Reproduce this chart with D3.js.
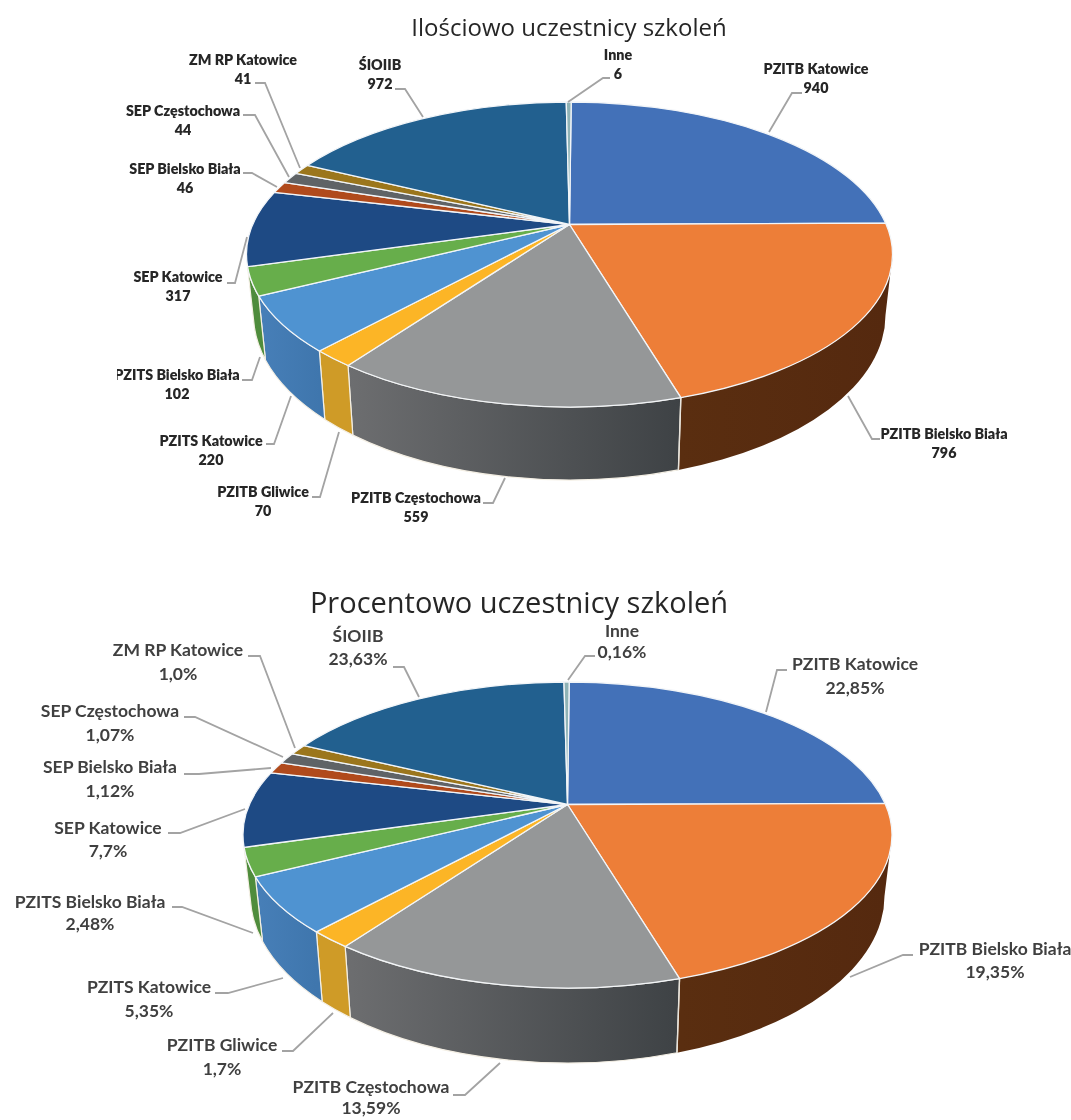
<!DOCTYPE html>
<html><head><meta charset="utf-8">
<script src="https://cdn.jsdelivr.net/npm/d3@7"></script>
<style>html,body{margin:0;padding:0;background:#fff}svg{display:block}</style>
</head><body><svg id="c" width="1071" height="1120"></svg>
<script>
// ---- data ----
const categories = ["PZITB Katowice","PZITB Bielsko Biała","PZITB Częstochowa","PZITB Gliwice","PZITS Katowice","PZITS Bielsko Biała","SEP Katowice","SEP Bielsko Biała","SEP Częstochowa","ZM RP Katowice","ŚIOIIB","Inne"];
const counts = [940,796,559,70,220,102,317,46,44,41,972,6];
const percents = [22.85,19.35,13.59,1.7,5.35,2.48,7.7,1.12,1.07,1.0,23.63,0.16];
const percentLabels = ["22,85%","19,35%","13,59%","1,7%","5,35%","2,48%","7,7%","1,12%","1,07%","1,0%","23,63%","0,16%"];
const titles = ["Ilościowo uczestnicy szkoleń","Procentowo uczestnicy szkoleń"];

// ---- colours ----
const topColors = ["#4371b8","#ed7e38","#959798","#fcb526","#4f93d1","#67ae4b","#1e4a84","#b04a1c","#5f6366","#9b761c","#22608f","#8fb3b6"];
const wallColors = {1:["#5a2e10","#55290f"],2:["#6d6e70","#3e4245"],3:["#cf9b27","#cf9b27"],4:["#477fb8","#3f76ad"],5:["#4f8c3c","#4f8c3c"]};

// ---- projection: the 3-D tilt foreshortens the sweep of each slice ----
const sweepDomain = [0,.2285,.422,.558,.6285,.653,.730,.762,.9985,1].map(f=>f*2*Math.PI);
const sweepRange  = [0.3,78.1,159.8,223.3,254.2,265.3,293.9,305.7,359.4,360.3].map(d=>d*Math.PI/180);
const sweep = d3.scaleLinear().domain(sweepDomain).range(sweepRange);

const pieLayout = d3.pie().sort(null).value(d=>d);

// ---- layouts: [text x, line-1 y, line-2 y, leader points] ----
const layoutTop = [
 [816,69,88,[[802,93],[792,93],[769,132]]],
 [944,434,453,[[880,439],[872,439],[848,396]]],
 [416,498,517,[[483,503],[493,503],[505,478]]],
 [263,492,511,[[312,497],[320,497],[339,432]]],
 [211,441,460,[[266,444],[274,444],[291,396]]],
 [177,375,394,[[242,380],[252,380],[260,357]]],
 [178,277,296,[[227,283],[235,283],[247,237]]],
 [185,169,188,[[243,173],[252,173],[277,187]]],
 [183,111,130,[[243,115],[255,115],[289,177]]],
 [243,60,79,[[255,83],[265,83],[300,168]]],
 [380,65,84,[[395,89],[405,89],[423,117]]],
 [618,55,74,[[610,78],[603,78],[568,102]]]
];
const layoutBottom = [
 [855,664,688,[[787,670],[777,670],[766,712]]],
 [995,949,972,[[913,955],[903,955],[850,977]]],
 [371,1087,1108,[[453,1095],[465,1095],[500,1063]]],
 [222,1045,1069,[[282,1051],[293,1051],[333,1013]]],
 [149,987,1011,[[215,993],[228,993],[283,978]]],
 [90,902,924,[[172,907],[182,907],[253,933]]],
 [108,828,851,[[168,833],[180,833],[245,809]]],
 [110,767,791,[[184,774],[199,774],[271,768]]],
 [110,711,735,[[184,717],[195,717],[283,757]]],
 [178,650,674,[[248,656],[260,656],[295,748]]],
 [358,636,659,[[393,667],[404,667],[419,697]]],
 [622,631,652,[[595,656],[585,656],[568,680]]]
];

const svg = d3.select("#c");
const defs = svg.append("defs");
defs.append("clipPath").attr("id","cutLabel").append("rect").attr("x",117).attr("y",360).attr("width",200).attr("height",40);
const soft=defs.append("filter").attr("id","soft").attr("x","-5%").attr("y","-20%").attr("width","110%").attr("height","140%");
soft.append("feGaussianBlur").attr("stdDeviation",0.45);

function drawPie(cfg){
  const {values,labels,layout,apex,top,low,id} = cfg;
  const g = svg.append("g");
  const arcs = pieLayout(values);
  const pt = (e,t)=>[e.cx+e.rx*Math.sin(t), e.cy-e.ry*Math.cos(t)];
  const fmt = p=>p[0].toFixed(2)+" "+p[1].toFixed(2);
  const rim = (e,a,b,fwd)=>`A${e.rx} ${e.ry} 0 ${Math.abs(b-a)>Math.PI?1:0} ${fwd?1:0} ${fmt(pt(e,b))}`;

  // walls
  arcs.forEach((d,i)=>{
    if(!wallColors[i]) return;
    const t0=sweep(d.startAngle), t1=sweep(d.endAngle);
    const gid=`w${id}${i}`;
    const x0=pt(top,t1)[0], x1=pt(top,t0)[0];
    const lg=defs.append("linearGradient").attr("id",gid).attr("gradientUnits","userSpaceOnUse")
      .attr("x1",Math.min(x0,x1)).attr("x2",Math.max(x0,x1)).attr("y1",0).attr("y2",0);
    lg.append("stop").attr("offset",0).attr("stop-color",wallColors[i][0]);
    lg.append("stop").attr("offset",1).attr("stop-color",wallColors[i][1]);
    const a=Math.max(t0,i===1?Math.PI/2:t0);
    g.append("path")
      .attr("d",`M${fmt(pt(top,a))}${rim(top,a,t1,true)}L${fmt(pt(low,t1))}${rim(low,t1,a,false)}Z`)
      .attr("fill",`url(#${gid})`).attr("stroke","#f4efe4").attr("stroke-width",i===1?0:1.2).attr("stroke-linejoin","round");
  });
  const tB=sweep(arcs[1].endAngle);
  g.append("line").attr("x1",pt(top,tB)[0]).attr("y1",pt(top,tB)[1]).attr("x2",pt(low,tB)[0]).attr("y2",pt(low,tB)[1])
    .attr("stroke","#e8e4dc").attr("stroke-width",1.4);

  // top faces
  g.selectAll("path.face").data(arcs).join("path").attr("class","face")
    .attr("d",d=>{
      const a=sweep(d.startAngle), b=sweep(d.endAngle);
      return `M${apex[0]} ${apex[1]}L${fmt(pt(top,a))}${rim(top,a,b,true)}Z`;
    })
    .attr("fill",(d,i)=>topColors[i])
    .attr("stroke","#f2f5f8").attr("stroke-width",1.3).attr("stroke-linejoin","round");

  // leaders
  g.selectAll("path.lead").data(layout).join("path").attr("class","lead")
    .attr("d",d=>d3.line()(d[3])).attr("fill","none").attr("stroke","#a3a3a3").attr("stroke-width",1.8);

  // labels
  const tg=g.selectAll("g.lab").data(categories).join("g").attr("class","lab")
    .attr("font-family",cfg.font).attr("font-weight",cfg.weight).attr("font-size",cfg.size).attr("fill",cfg.color)
    .attr("text-anchor","middle").attr("filter","url(#soft)");
  tg.each(function(c,i){
    const s=d3.select(this), L=layout[i];
    const line1=s.append("text").attr("x",L[0]).attr("y",L[1]).attr("dy","0.36em").text(c);
    s.append("text").attr("x",L[0]).attr("y",L[2]).attr("dy","0.36em").text(labels[i]);
    if(cfg.clip && i===5) line1.attr("clip-path","url(#cutLabel)");
  });
  // title
  svg.append("text").attr("x",cfg.title[0]).attr("y",cfg.title[1]).attr("text-anchor","middle")
    .attr("font-family","Open Sans").attr("font-size",cfg.title[2]).attr("fill","#262626").attr("filter","url(#soft)").text(cfg.title[3]);
}

drawPie({id:"a",values:counts,labels:counts.map(String),layout:layoutTop,clip:true,
  apex:[569.5,224.5],top:{cx:569.5,cy:254.5,rx:323,ry:152.5},low:{cx:569.5,cy:315,rx:316,ry:165},
  font:"Lato",weight:800,size:14.3,color:"#262626",title:[569,36,24,titles[0]]});
drawPie({id:"b",values:percents,labels:percentLabels,layout:layoutBottom,clip:false,
  apex:[567.5,804.5],top:{cx:567.5,cy:835,rx:324.5,ry:153},low:{cx:567.5,cy:896,rx:317,ry:167},
  font:"Lato",weight:700,size:17.5,color:"#404040",title:[519,613,29,titles[1]]});
</script></body></html>
